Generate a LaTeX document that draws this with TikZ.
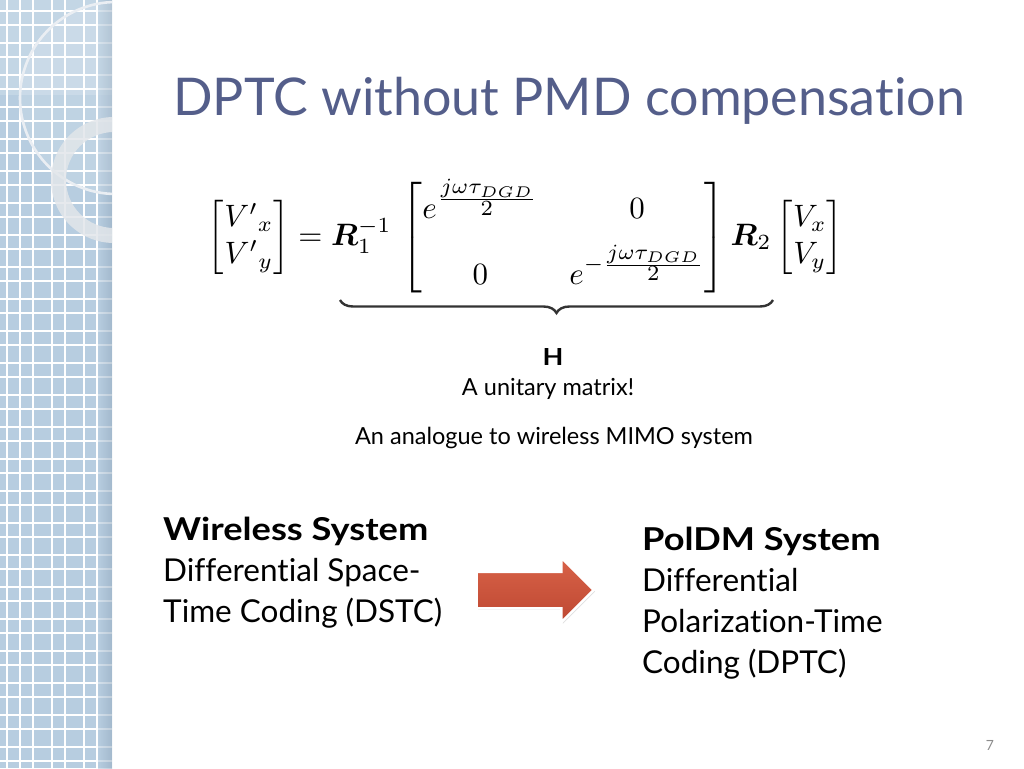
\documentclass[tikz,border=0pt]{standalone}
\usepackage[no-math]{fontspec}
\setmainfont{Lato}[Ligatures=NoCommon, BoldFeatures={FakeStretch=1.15}]
\usepackage{amsmath,bm}
\usepackage{graphicx}
\usetikzlibrary{shapes.arrows,shadows,decorations.pathreplacing}
\definecolor{titleblue}{RGB}{84,94,138}
\definecolor{stripblue}{RGB}{183,205,224}
\definecolor{stripdark}{RGB}{150,172,192}
\definecolor{ringgray}{RGB}{226,230,234}
\definecolor{arrowtop}{RGB}{216,98,72}
\definecolor{arrowbot}{RGB}{190,72,50}
\definecolor{pagegray}{RGB}{140,140,140}
\tikzset{
  bodytext/.style={inner sep=0pt, align=left, font=\fontsize{31.5}{41}\selectfont, text=black, anchor=north west},
  smalltext/.style={inner sep=0pt, font=\fontsize{23.5}{26}\selectfont, text=black},
  gridline/.style={white, line width=1.4pt},
}
\begin{document}
\begin{tikzpicture}[x=1pt,y=-1pt]
\useasboundingbox (0,0) rectangle (1024,768);
% left decorative strip
\begin{scope}
  \clip (0,0) rectangle (112,768);
  \fill[stripblue] (0,0) rectangle (112,768);
  \fill[white, opacity=0.18] (0,0) rectangle (112,95);
  \foreach \xx in {7,20,33,52,65,84,97} \draw[gridline] (\xx,0) -- (\xx,768);
  \foreach \k in {0,...,24} {
    \draw[gridline] (0,11+32*\k) -- (112,11+32*\k);
    \draw[gridline] (0,25+32*\k) -- (112,25+32*\k);
  }
  \shade[left color=stripblue, right color=stripdark, opacity=0.6] (98,0) rectangle (112,768);
  \fill[white, opacity=0.12] (116,98) circle (96);
  \draw[white!80!stripdark, line width=2.6pt] (116,98) circle (96);
  \fill[ringgray, opacity=0.85, even odd rule] (114,180) circle (63) (114,180) circle (48);
\end{scope}
% title
\node[anchor=base west, inner sep=0pt, text=titleblue, font=\fontsize{52}{58}\selectfont] (title) at (173,115) {DPTC without PMD compensation};
% equation
\node[inner sep=0pt] (eq) at (525.5,237.5) {\resizebox{635pt}{!}{$\begin{bmatrix} {V'}_{x}\\ {V'}_{y}\end{bmatrix} = \bm{R}_1^{-1}\,\begin{bmatrix} e^{\frac{\scriptstyle j\omega\tau_{DGD}}{\scriptstyle 2}} & 0\\[5pt] 0 & e^{-\frac{\scriptstyle j\omega\tau_{DGD}}{\scriptstyle 2}}\end{bmatrix}\bm{R}_2\begin{bmatrix}V_x\\ V_y\end{bmatrix}$}};
% brace
\coordinate (braceL) at (340,300);
\coordinate (braceR) at (773,300);
\draw[decorate, decoration={brace, mirror, amplitude=13pt}, line width=2.4pt, black!80] (braceL) -- (braceR);
\node[smalltext, font=\fontsize{23.5}{26}\selectfont\bfseries] (H) at (553,357) {H};
\node[smalltext] (unitary) at (548,389) {A unitary matrix!};
\node[smalltext] (analogue) at (554,438) {An analogue to wireless MIMO system};
% blocks
\node[bodytext] (wireless) at (163,517) {\textbf{Wireless System}\\Differential Space-\\Time Coding (DSTC)};
\node[bodytext] (poldm) at (642,527) {\textbf{PolDM System}\\Differential\\Polarization-Time\\Coding (DPTC)};
% arrow
\node[single arrow, draw=white, line width=2.5pt, top color=arrowtop, bottom color=arrowbot,
      minimum height=117pt, single arrow head extend=14pt, single arrow head indent=0pt,
      inner xsep=0pt, inner ysep=17pt,
      drop shadow={opacity=0.25, shadow xshift=1.5pt, shadow yshift=-1.5pt}] (arrow) at (526,590) {};
% page number
\node[inner sep=0pt, text=pagegray, font=\fontsize{14}{16}\selectfont] (page) at (990,745) {7};
\end{tikzpicture}
\end{document}
